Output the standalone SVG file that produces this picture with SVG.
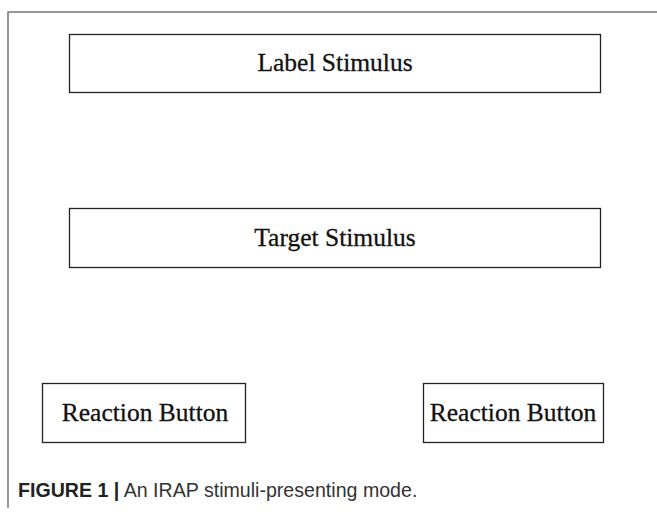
<svg xmlns="http://www.w3.org/2000/svg" width="657" height="517" viewBox="0 0 657 517">
<style>
.box{fill:#fff;stroke:#222;stroke-width:1.3}
.lbl{font-family:"Liberation Serif","Times New Roman",serif;font-size:25.5px;fill:#111;stroke:#111;stroke-width:0.3;text-anchor:middle}
.frame{stroke:#777;stroke-width:1.5;fill:none}
.cap{font-family:"Liberation Sans",Arial,sans-serif;font-size:19.6px;fill:#333}
</style>
<rect width="657" height="517" fill="#fff"/>
<path class="frame" d="M8,508 V12 H657"/>
<g id="label-stimulus"><rect class="box" x="69.5" y="34.5" width="531" height="58"/><text class="lbl" x="335" y="71">Label Stimulus</text></g>
<g id="target-stimulus"><rect class="box" x="69.5" y="208.5" width="531" height="59"/><text class="lbl" x="335" y="246">Target Stimulus</text></g>
<g id="button-left"><rect class="box" x="42.5" y="383.5" width="203" height="59"/><text class="lbl" x="145" y="421">Reaction Button</text></g>
<g id="button-right"><rect class="box" x="423.5" y="383.5" width="180" height="59"/><text class="lbl" x="513" y="421">Reaction Button</text></g>
<g id="connectors"></g>
<text class="cap" x="18" y="497"><tspan font-weight="bold" fill="#222">FIGURE 1 |</tspan> An IRAP stimuli-presenting mode.</text>
</svg>
